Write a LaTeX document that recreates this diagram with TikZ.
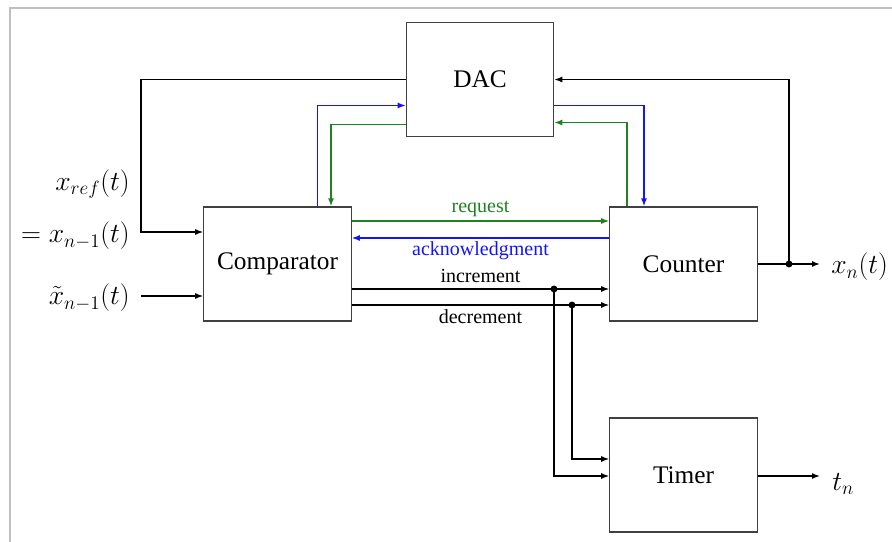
\documentclass[tikz,border=0pt]{standalone}
\usepackage{amsmath}
\usepackage{fontspec}
\setmainfont{Liberation Serif}
\usetikzlibrary{arrows.meta,calc}
\definecolor{reqgreen}{RGB}{30,130,30}
\definecolor{ackblue}{RGB}{20,20,250}
\tikzset{%
        x = 0.75pt,
        y = -0.75pt,
        >={Latex[length=6pt,width=4.5pt]},
        sig/.style = {line width=1.1pt, draw=black},
        req/.style = {sig, draw=reqgreen},
        ack/.style = {sig, draw=ackblue},
        block/.style = {draw=black!75, line width=0.9pt, fill=white,
                minimum width=110.5pt, minimum height=85.5pt,
                font=\fontsize{19}{23}\selectfont},
        tag/.style = {font=\fontsize{15}{18}\selectfont, inner sep=1pt},
        mathtag/.style = {font=\fontsize{20.5}{24}\selectfont, inner sep=0pt},
        tap/.style = {fill=black}
}

\begin{document}
\begin{tikzpicture}
            \useasboundingbox (0,0) rectangle (892,542);
            \draw[black!25, line width=0.8pt] (10,542) -- (10,8) -- (892,8);

            % blocks
            \node[block] (dac) at (480,79.5) {DAC};
            \node[block] (comp) at (277.5,264) {Comparator};
            \node[block] (cnt) at (683.5,264) {Counter};
            \node[block] (timer) at (683.5,475) {Timer};

            % inputs
            \coordinate (fb) at (141,232);
            \coordinate (xin) at (141,296);
            \node[mathtag, anchor=east] (xref) at (130,184) {$x_{ref}(t)$};
            \node[mathtag, anchor=east] (xeq) at (130,236) {$=x_{n-1}(t)$};
            \node[mathtag, anchor=east] (xtil) at (130,298) {$\tilde{x}_{n-1}(t)$};
            \draw[sig,->] (dac.west) -| (fb) -- (fb -| comp.west);
            \draw[sig,->] (xin) -- (xin -| comp.west);

            % counter output and feedback to the DAC
            \coordinate (xtap) at (789,264);
            \coordinate (xend) at (820,264);
            \node[mathtag, anchor=west] (xout) at (831,267) {$x_n(t)$};
            \draw[sig,->] (cnt.east) -- (xend);
            \draw[sig,->] (xtap) |- (dac.east);
            \fill[tap] (xtap) circle (2.6pt);

            % DAC handshake
            \draw[ack,->] ($(comp.north)+(40,0)$) |- ($(dac.west)+(0,26)$);
            \draw[ack,->] ($(dac.east)+(0,26)$) -| ($(cnt.north)+(-39.5,0)$);
            \draw[req,->] ($(dac.west)+(0,45)$) -| ($(comp.north)+(53.5,0)$);
            \draw[req,->] ($(cnt.north)+(-56.5,0)$) |- ($(dac.east)+(0,43)$);

            % comparator to counter
            \draw[req,->] ($(comp.east)+(0,-43)$) -- node[tag, above=2pt, text=reqgreen] {request} ($(cnt.west)+(0,-43)$);
            \draw[ack,->] ($(cnt.west)+(0,-26)$) -- node[tag, below=1pt, text=ackblue] {acknowledgment} ($(comp.east)+(0,-26)$);
            \draw[sig,->] ($(comp.east)+(0,25)$) -- node[tag, above=3pt] {increment} ($(cnt.west)+(0,25)$);
            \draw[sig,->] ($(comp.east)+(0,41)$) -- node[tag, below=2pt] {decrement} ($(cnt.west)+(0,41)$);

            % taps into the timer
            \coordinate (itap) at (554,289);
            \coordinate (dtap) at (572,305);
            \draw[sig,->] (itap) |- ($(timer.west)+(0,1)$);
            \draw[sig,->] (dtap) |- ($(timer.west)+(0,-16)$);
            \fill[tap] (itap) circle (2.6pt);
            \fill[tap] (dtap) circle (2.6pt);

            % timer output
            \coordinate (tend) at (820,476);
            \node[mathtag, anchor=west] (tout) at (832,484) {$t_n$};
            \draw[sig,->] ($(timer.east)+(0,1)$) -- (tend);
        \end{tikzpicture}
\end{document}
